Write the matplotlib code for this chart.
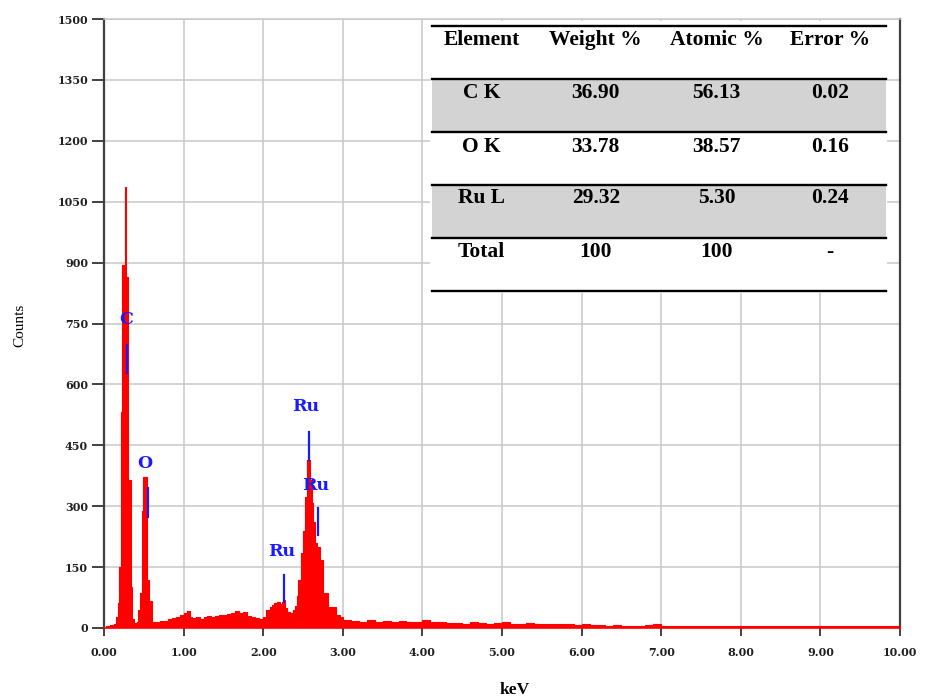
import matplotlib
matplotlib.use("Agg")
import matplotlib.pyplot as plt

# EDS spectrum (keV, counts)
energy_kev = [0.00, 0.02, 0.08, 0.12, 0.15, 0.18, 0.19, 0.21, 0.23, 0.265, 0.276, 0.305, 0.335, 0.355,
              0.38, 0.41, 0.43, 0.452, 0.473, 0.494, 0.544, 0.57, 0.60,
              0.65, 0.70, 0.75, 0.80, 0.85, 0.90, 0.95, 1.00, 1.04, 1.08, 1.10, 1.15, 1.20, 1.25,
              1.30, 1.35, 1.40, 1.45, 1.50, 1.55, 1.60, 1.65, 1.70, 1.75, 1.80, 1.85, 1.90, 1.95,
              2.00, 2.04, 2.08, 2.11, 2.14, 2.17, 2.21, 2.23, 2.25, 2.28, 2.30, 2.34, 2.38, 2.40,
              2.42, 2.44, 2.47, 2.50, 2.525, 2.555, 2.59, 2.61, 2.63, 2.65, 2.68, 2.71, 2.75, 2.82,
              2.92, 2.96,
              3.0, 3.1, 3.2, 3.3, 3.4, 3.5, 3.6, 3.7, 3.8, 3.9, 4.0, 4.1, 4.2, 4.3, 4.4, 4.5, 4.6,
              4.7, 4.8, 4.9, 5.0, 5.1, 5.2, 5.3, 5.4, 5.5, 5.6, 5.7, 5.8, 5.9, 6.0, 6.1, 6.2, 6.3,
              6.4, 6.5, 6.6, 6.7, 6.8, 6.9, 7.0, 7.1, 7.2, 7.3, 7.4, 7.5, 7.6, 7.7, 7.8, 7.9, 8.0,
              8.1, 8.2, 8.3, 8.4, 8.5, 8.6, 8.7, 8.8, 8.9, 9.0, 9.1, 9.2, 9.3, 9.4, 9.5, 9.6, 9.7,
              9.8, 9.9, 10.0]
counts = [0, 6, 8, 10, 28, 62, 151, 533, 894, 1087, 865, 364, 102, 22,
          12, 15, 44, 85, 287, 373, 118, 66, 15,
          16, 18, 17, 22, 25, 28, 33, 38, 42, 26, 24, 26, 22, 27,
          29, 27, 30, 33, 31, 35, 38, 42, 36, 40, 30, 27, 25, 23,
          26, 44, 52, 57, 62, 65, 58, 63, 69, 50, 40, 37, 45, 53,
          80, 118, 184, 240, 323, 414, 365, 307, 260, 209, 200, 167, 85, 52,
          32, 28,
          20, 18, 16, 19, 15, 17, 14, 18, 15, 16, 19, 14, 15, 12, 13, 11, 14,
          12, 11, 13, 15, 11, 10, 12, 11, 10, 11, 9, 10, 8, 9, 8, 7, 6,
          7, 6, 6, 5, 7, 9, 6, 5, 4, 4, 5, 6, 5, 4, 5, 6, 5,
          4, 6, 5, 4, 6, 5, 4, 6, 5, 4, 6, 5, 4, 6, 5, 6, 4,
          5, 6, 6]

# peak markers: label, line energy, line bottom/top, label position
peak_labels = ["C", "O", "Ru", "Ru", "Ru"]
peak_line_kev = [0.29, 0.553, 2.265, 2.575, 2.69]
peak_line_lo = [628, 273, 65, 414, 229]
peak_line_hi = [697, 345, 130, 483, 296]
peak_label_kev = [0.273, 0.515, 2.232, 2.538, 2.66]
peak_label_counts = [759, 405, 188, 545, 352]

# quantification table
table_header = ["Element", "Weight %", "Atomic %", "Error %"]
table_rows = [["C K", "36.90", "56.13", "0.02"],
              ["O K", "33.78", "38.57", "0.16"],
              ["Ru L", "29.32", "5.30", "0.24"],
              ["Total", "100", "100", "-"]]

x_ticks = [0, 1, 2, 3, 4, 5, 6, 7, 8, 9, 10]
y_ticks = [0, 150, 300, 450, 600, 750, 900, 1050, 1200, 1350, 1500]

W, H = 925, 697
fig = plt.figure(figsize=(W / 100, H / 100), dpi=100, facecolor="white")
ax = fig.add_axes([104 / W, 1 - 628 / H, (900 - 104) / W, (628 - 19) / H])

ax.fill_between(energy_kev, counts, step="post", color="#ff0000", lw=0, zorder=3)
ax.step(energy_kev, counts, where="post", color="#ff0000", lw=0.8, zorder=3)

blue = "#1a1aff"
for lab, lx, lo, hi, tx, ty in zip(peak_labels, peak_line_kev, peak_line_lo, peak_line_hi,
                                   peak_label_kev, peak_label_counts):
    ax.plot([lx, lx], [lo, hi], color=blue, lw=1.6, zorder=4)
    ax.text(tx, ty, lab, color=blue, fontsize=12.5, fontweight="bold", family="DejaVu Serif",
            ha="center", va="center", zorder=4)

ax.set_xlim(0, 10)
ax.set_ylim(0, 1500)
ax.set_xticks(x_ticks)
ax.set_yticks(y_ticks)
ax.set_xticklabels([f"{v:.2f}" for v in x_ticks])
ax.set_yticklabels([str(v) for v in y_ticks])
for lbl in ax.get_xticklabels() + ax.get_yticklabels():
    lbl.set_family("DejaVu Serif")
    lbl.set_fontweight("bold")
    lbl.set_fontsize(8)
    lbl.set_color("#202020")
ax.tick_params(axis="y", direction="out", length=8.5, width=1.4, color="#404040", pad=3)
ax.tick_params(axis="x", direction="out", length=6, width=1.4, color="#404040", pad=8)

ax.grid(True, color="#c8c8c8", lw=1.1, zorder=0)
ax.set_axisbelow(True)
ax.spines["left"].set_color("#404040")
ax.spines["left"].set_linewidth(1.6)
ax.spines["right"].set_color("#404040")
ax.spines["right"].set_linewidth(1.6)
ax.spines["top"].set_color("#c8c8c8")
ax.spines["top"].set_linewidth(1.1)
ax.spines["bottom"].set_color("#ff0000")
ax.spines["bottom"].set_linewidth(1.2)

fig.text(20 / W, 1 - 325 / H, "Counts", rotation=90, family="Liberation Serif", fontsize=11,
         ha="center", va="center")
fig.text(515 / W, 1 - 690 / H, "keV", family="Liberation Serif", fontsize=12.5, fontweight="bold",
         ha="center", va="center")

# table drawn in its own axes, pixel units
tax = fig.add_axes([430 / W, 1 - 293 / H, (887 - 430) / W, (293 - 21) / H], facecolor="white")
tax.set_xlim(430, 887)
tax.set_ylim(293, 21)
tax.set_xticks([])
tax.set_yticks([])
for sp in tax.spines.values():
    sp.set_visible(False)

rules = [25.7, 78.5, 131.5, 184.5, 237.7, 291]
x0, x1 = 431.7, 886
for i in (0, 2):
    tax.fill_between([x0, x1], rules[i + 1], rules[i + 2], color="#d3d3d3", lw=0)
for r in rules:
    tax.plot([x0, x1], [r, r], color="black", lw=1.7, clip_on=False)

col_x = [481.7, 595.7, 716.7, 830]
row_y = [40, 93.3, 146.7, 198, 251.7]
for cx, txt in zip(col_x, table_header):
    tax.text(cx, row_y[0], txt, ha="center", va="center", family="Liberation Serif",
             fontsize=15.5, fontweight="bold")
for ry, row in zip(row_y[1:], table_rows):
    for cx, txt in zip(col_x, row):
        tax.text(cx, ry, txt, ha="center", va="center", family="Liberation Serif",
                 fontsize=15.5, fontweight="bold")

plt.savefig("out.png", dpi=100, facecolor="white")
